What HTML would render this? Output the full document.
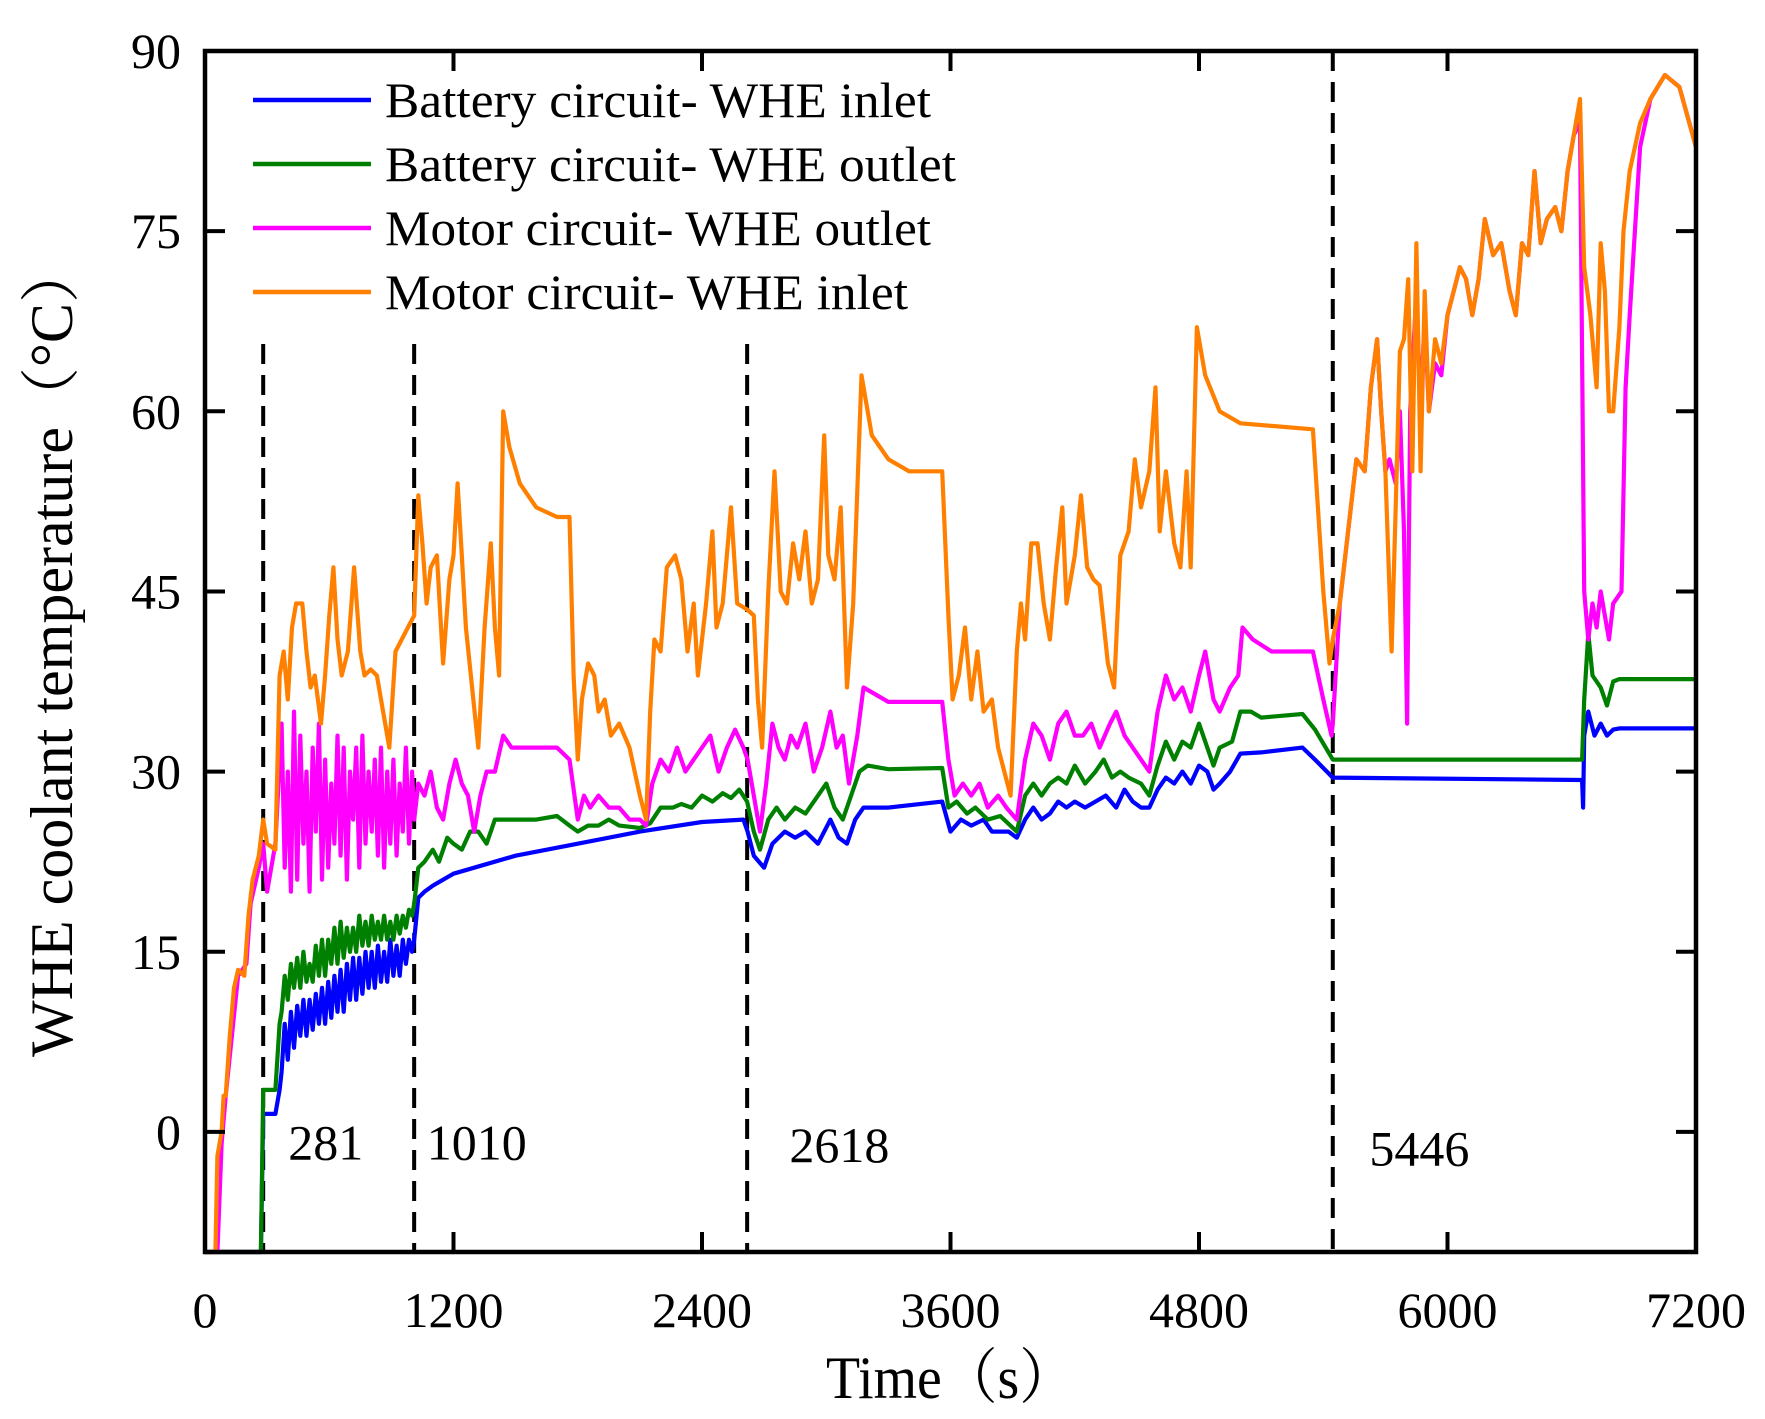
<!DOCTYPE html>
<html><head><meta charset="utf-8">
<style>
html,body{margin:0;padding:0;background:#fff;}
svg{display:block;font-family:"Liberation Serif",serif;}
</style></head>
<body>
<svg id="chart" width="1765" height="1419" viewBox="0 0 1765 1419" xmlns="http://www.w3.org/2000/svg">
<g id="grid"></g>
<g id="series"></g>
<g id="frame"></g>
</svg>
<script>
const xTicks=[0,1200,2400,3600,4800,6000,7200];
const yTicks=[0,15,30,45,60,75,90];
const markers=[281,1010,2618,5446];
const markerTops=[65.6,65.6,65.6,90];
const markerLabels=["281","1010","2618","5446"];
const markerLabelT=[402,1071,2822,5623];
const markerLabelV=[-0.8,-0.8,-1.0,-1.3];

const bT=[0,270,281,340,360,370,385,400,415,430,445,460,475,490,505,520,535,550,565,580,595,610,625,640,655,670,685,700,715,730,745,760,775,790,805,820,835,850,865,880,895,910,925,940,955,970,985,1000,1010,1030,1060,1100,1150,1200,1300,1500,1800,2100,2400,2600,2620,2650,2700,2740,2800,2850,2900,2960,3020,3060,3100,3140,3180,3300,3560,3600,3650,3700,3760,3800,3880,3920,3960,4000,4040,4080,4120,4160,4200,4250,4300,4350,4400,4440,4480,4520,4560,4600,4640,4680,4720,4760,4800,4840,4870,4900,4950,5000,5100,5300,5360,5446,6650,6655,6660,6680,6710,6740,6770,6800,6830,7200];
const bV=[-10,-10,1.5,1.5,3.5,5,9,6,10,7,10.5,8,11,8,11,8.5,11.5,9,12,9,12.5,9.5,13,10,13.5,10,14,11,14.5,11,14.5,11.5,15,12,15,12,15.5,12.5,15,12.5,16,13,15.5,13,16,14,16,15,16,19.5,20,20.5,21,21.5,22,23,24,25,25.8,26,25,23,22,24,25,24.5,25,24,26,24.5,24,26,27,27,27.5,25,26,25.5,26,25,25,24.5,26,27,26,26.5,27.5,27,27.5,27,27.5,28,27,28.5,27.5,27,27,28.5,29.5,29,30,29,30.5,30,28.5,29,30,31.5,31.6,32,31,29.5,29.3,27,33,35,33,34,33,33.5,33.6,33.6];

const gT=[0,270,281,340,360,370,385,400,415,430,445,460,475,490,505,520,535,550,565,580,595,610,625,640,655,670,685,700,715,730,745,760,775,790,805,820,835,850,865,880,895,910,925,940,955,970,985,1000,1010,1030,1060,1100,1130,1170,1200,1240,1280,1320,1360,1400,1450,1600,1700,1760,1800,1850,1900,1950,2000,2100,2150,2200,2260,2300,2350,2400,2450,2500,2540,2580,2618,2650,2680,2720,2760,2800,2850,2900,2960,3000,3040,3080,3120,3160,3200,3300,3560,3590,3630,3680,3720,3780,3840,3920,3960,4000,4040,4080,4120,4160,4200,4250,4300,4340,4380,4420,4460,4520,4560,4600,4640,4680,4720,4760,4800,4840,4870,4900,4960,5000,5050,5100,5300,5360,5446,6650,6660,6680,6700,6740,6770,6800,6830,7200];
const gV=[-10,-10,3.5,3.5,9,10,13,11,14,12,14.5,12,15,12.5,14,12.5,15.5,13,16,13,16,14,17,14,17.5,14.5,17,15,17,15,18,15.5,17.5,15.5,18,16,17.5,16,18,16,17.5,16,18,16.5,18,17,18.5,18,19,22,22.5,23.5,22.5,24.5,24,23.5,25,25,24,26,26,26,26.3,25.5,25,25.5,25.5,26,25.5,25.3,25.7,27,27,27.3,27,28,27.5,28.2,27.8,28.5,27.5,25,23.5,26,27,26,27,26.5,28,29,27,26,28,30,30.5,30.2,30.3,27,27.5,26.5,27,26,26.3,25,28,29,28,29,29.5,29,30.5,29,30,31,29.5,30,29.5,29,28,30.5,32.5,31,32.5,32,34,32,30.5,32,32.5,35,35,34.5,34.8,33.5,31,31,36,41.5,38,37,35.5,37.5,37.7,37.7];

const pT=[0,60,80,100,130,160,200,220,260,281,300,340,370,385,400,415,430,445,460,475,490,505,520,535,550,565,580,595,610,625,640,655,670,685,700,715,730,745,760,775,790,805,820,835,850,865,880,895,910,925,940,955,970,985,1000,1010,1030,1060,1090,1120,1150,1180,1210,1240,1270,1300,1330,1360,1400,1440,1480,1560,1700,1760,1800,1830,1860,1900,1950,2000,2050,2100,2130,2160,2200,2240,2280,2320,2360,2400,2440,2480,2520,2560,2600,2620,2650,2680,2710,2740,2770,2800,2830,2860,2900,2940,2980,3020,3050,3080,3110,3150,3180,3230,3300,3560,3590,3620,3660,3700,3740,3780,3830,3870,3920,3960,4000,4040,4080,4120,4160,4200,4240,4280,4320,4370,4400,4440,4480,4520,4560,4600,4640,4680,4720,4760,4800,4830,4870,4900,4950,4990,5010,5060,5150,5350,5400,5440,5446,5480,5520,5560,5600,5630,5660,5680,5700,5720,5750,5770,5790,5805,5820,5850,5870,5890,5910,5940,5970,6000,6030,6060,6090,6120,6150,6180,6220,6260,6300,6330,6360,6390,6420,6450,6480,6520,6550,6580,6610,6640,6660,6680,6700,6720,6740,6780,6800,6840,6860,6880,6930,6980,7050,7120,7200];
const pV=[-10,-10,-1,3,8,13,14,19,22,24,20,24,34,22,30,20,35,21,33,24,30,20,32,25,34,21,31,22,29,24,33,23,32,21,30,26,32,22,33,24,30,25,31,23,32,22,30,24,31,23,29,25,32,24,30,26,29,28,30,27,26,29,31,29,28,25,28,30,30,33,32,32,32,31,26,28,27,28,27,27,26,26,25.5,29,31,30,32,30,31,32,33,30,32,33.5,32,31,28,25,29,34,32,31,33,32,34,30,32,35,32,33,29,33,37,36.5,35.8,35.8,31,28,29,28,29,27,28,27,26,31,34,33,31,34,35,33,33,34,32,34,35,33,32,31,30,35,38,36,37,35,38,40,36,35,37,38,42,41,40,40,36,33,34,44,50,56,55,62,66,60,55,56,54,60,50,34,60,70,60,68,60,64,63,68,70,72,71,68,71,76,73,74,70,68,74,73,80,74,76,77,75,80,83,84,45,41,44,42,45,41,44,45,62,68,82,86,88,87,82];

const oT=[0,50,60,80,90,100,120,140,160,190,210,230,260,281,300,340,360,380,400,420,440,470,490,510,530,560,580,600,620,640,660,690,720,750,770,800,830,860,890,920,950,980,1010,1030,1050,1070,1090,1120,1150,1180,1200,1220,1240,1260,1290,1320,1350,1380,1400,1420,1440,1470,1520,1600,1700,1760,1780,1800,1820,1850,1880,1900,1930,1960,2000,2050,2100,2130,2150,2170,2200,2230,2270,2300,2330,2360,2380,2420,2450,2470,2500,2540,2570,2618,2650,2670,2690,2720,2750,2780,2810,2840,2870,2900,2930,2960,2990,3010,3040,3070,3100,3130,3170,3220,3300,3400,3560,3590,3610,3640,3670,3700,3730,3760,3800,3830,3860,3890,3920,3940,3960,3990,4020,4050,4080,4110,4140,4160,4200,4230,4260,4290,4320,4360,4390,4420,4460,4490,4520,4560,4590,4610,4640,4680,4710,4740,4760,4790,4830,4900,5000,5350,5400,5430,5446,5480,5520,5560,5600,5630,5660,5680,5700,5730,5750,5770,5790,5810,5830,5850,5870,5890,5910,5940,5970,6000,6030,6060,6090,6120,6150,6180,6220,6260,6300,6330,6360,6390,6420,6450,6480,6520,6550,6580,6610,6640,6660,6690,6720,6740,6760,6780,6800,6830,6850,6880,6930,6980,7050,7120,7200];
const oV=[-10,-10,-2,0,3,3,8,12,13.5,13,18,21,23,26,24,23.5,38,40,36,42,44,44,40,37,38,34,38,43,47,41,38,40,47,40,38,38.5,38,35,32,40,41,42,43,53,49,44,47,48,39,46,48,54,48,42,37,32,42,49,42,38,60,57,54,52,51.2,51.2,38,31,36,39,38,35,36,33,34,32,28,26,35,41,40,47,48,46,40,44,38,44,50,42,44,52,44,43.5,43,36,32,45,55,45,44,49,46,50,44,46,58,48,46,52,37,44,63,58,56,55,55,43,36,38,42,36,40,35,36,32,30,28,40,44,41,49,49,44,41,47,52,44,48,53,47,46,45.5,39,37,48,50,56,52,55,62,50,55,49,47,55,47,67,63,60,59,58.5,45,39,41,44,50,56,55,62,66,60,55,40,52,65,66,71,55,74,55,70,60,66,64,68,70,72,71,68,71,76,73,74,70,68,74,73,80,74,76,77,75,80,83,86,72,68,62,74,70,60,60,67,75,80,84,86,88,87,82];

const L=205,R=1696,T=51,B=1252;
function X(t){return L+(t/7200)*(R-L);}
function Y(v){return T+((90-v)/100)*(B-T);}
const NS="http://www.w3.org/2000/svg";
function mk(tag,attrs,parent){const e=document.createElementNS(NS,tag);for(const k in attrs)e.setAttribute(k,attrs[k]);parent.appendChild(e);return e;}
const grid=document.getElementById('grid'),series=document.getElementById('series'),frame=document.getElementById('frame');

markers.forEach((m,i)=>{
  const ln=mk('line',{x1:X(m),x2:X(m),y1:Y(markerTops[i]),y2:B,stroke:'#000','stroke-width':4,'stroke-dasharray':'20 11'},grid);
  
  
  const tx=mk('text',{x:X(markerLabelT[i]),y:Y(markerLabelV[i])+18,'font-size':50},grid);
  tx.textContent=markerLabels[i];
  
  
});

function drawSeries(ts,vs,color,name){
  let d='';
  for(let i=0;i<ts.length;i++){d+=(i?'L':'M')+X(ts[i]).toFixed(1)+' '+Y(vs[i]).toFixed(1);}
  const p=mk('path',{d:d,fill:'none',stroke:color,'stroke-width':4.2,'stroke-linejoin':'round'},series);
  
  
}
drawSeries(bT,bV,'#0000ff','battery-inlet-line');
drawSeries(gT,gV,'#008000','battery-outlet-line');
drawSeries(pT,pV,'#ff00ff','motor-outlet-line');
drawSeries(oT,oV,'#ff8000','motor-inlet-line');

const fr=mk('rect',{x:L,y:T,width:R-L,height:B-T,fill:'none',stroke:'#000','stroke-width':4.5},frame);


xTicks.forEach(t=>{
  mk('line',{x1:X(t),x2:X(t),y1:B,y2:B-20,stroke:'#000','stroke-width':4},frame);
  mk('line',{x1:X(t),x2:X(t),y1:T,y2:T+20,stroke:'#000','stroke-width':4},frame);
  const tx=mk('text',{x:X(t),y:1327,'font-size':50,'text-anchor':'middle'},frame);
  tx.textContent=t;
  
  
});
yTicks.forEach(v=>{
  mk('line',{x1:L,x2:L+20,y1:Y(v),y2:Y(v),stroke:'#000','stroke-width':4},frame);
  mk('line',{x1:R,x2:R-20,y1:Y(v),y2:Y(v),stroke:'#000','stroke-width':4},frame);
  const tx=mk('text',{x:181,y:Y(v)+17,'font-size':50,'text-anchor':'end'},frame);
  tx.textContent=v;
  
  
});
</script>
<svg style="position:absolute;left:0;top:0" width="1765" height="1419">
<g font-family="Liberation Serif, serif" font-size="50">
 <g><line x1="253" x2="371" y1="100" y2="100" stroke="#0000ff" stroke-width="4.5"/><text x="385" y="117" textLength="546" lengthAdjust="spacingAndGlyphs">Battery circuit- WHE inlet</text></g>
 <g><line x1="253" x2="371" y1="164" y2="164" stroke="#008000" stroke-width="4.5"/><text x="385" y="181" textLength="571" lengthAdjust="spacingAndGlyphs">Battery circuit- WHE outlet</text></g>
 <g><line x1="253" x2="371" y1="228" y2="228" stroke="#ff00ff" stroke-width="4.5"/><text x="385" y="245" textLength="546" lengthAdjust="spacingAndGlyphs">Motor circuit- WHE outlet</text></g>
 <g><line x1="253" x2="371" y1="292" y2="292" stroke="#ff8000" stroke-width="4.5"/><text x="385" y="309" textLength="523" lengthAdjust="spacingAndGlyphs">Motor circuit- WHE inlet</text></g>
</g>
<text x="826" y="1398" font-family="Liberation Serif, 'Noto Serif CJK SC', serif" font-size="60" textLength="249" lengthAdjust="spacingAndGlyphs">Time（s）</text>
<text transform="translate(72,1057) rotate(-90)" font-family="Liberation Serif, 'Noto Serif CJK SC', serif" font-size="60" textLength="814" lengthAdjust="spacingAndGlyphs">WHE coolant temperature（°C）</text>
</svg>
</body></html>
